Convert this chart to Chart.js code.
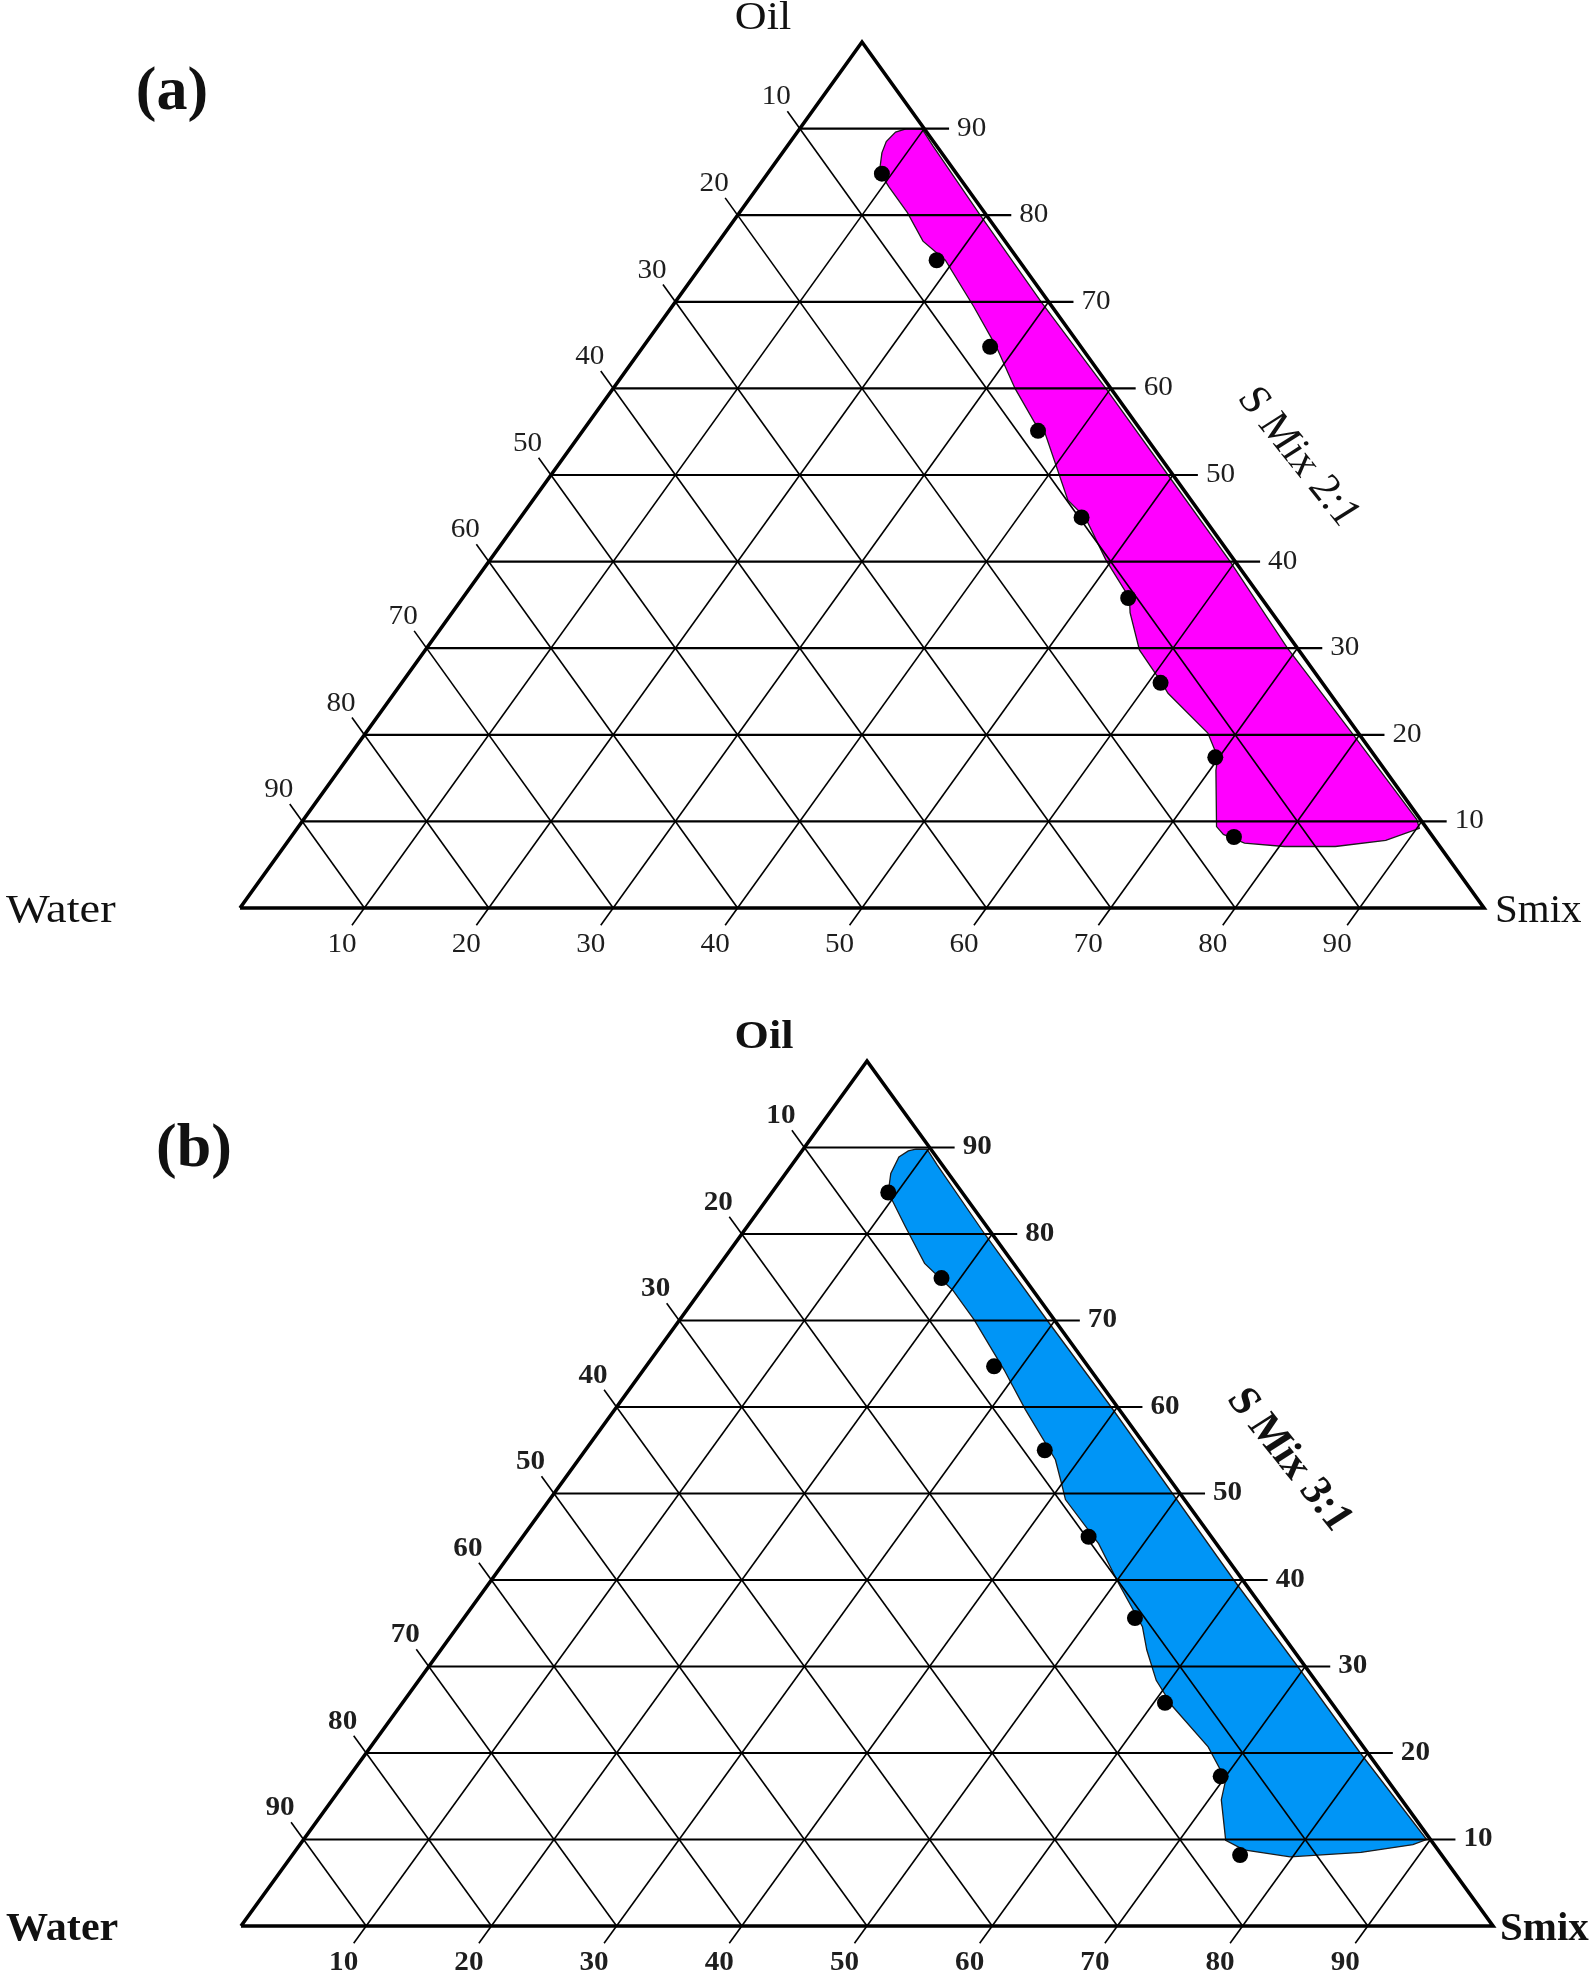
<!DOCTYPE html>
<html>
<head>
<meta charset="utf-8">
<script src="https://cdn.jsdelivr.net/npm/chart.js@4.4.0/dist/chart.umd.min.js"></script>
<style>
html,body{margin:0;padding:0;background:#ffffff;}
canvas{display:block;}
</style>
</head>
<body>
<canvas id="chartA" width="1593" height="988"></canvas>
<canvas id="chartB" width="1593" height="988"></canvas>
<script>
// ---------- DATA ----------
const tickValues = [10, 20, 30, 40, 50, 60, 70, 80, 90];
const tickLabels = ['10', '20', '30', '40', '50', '60', '70', '80', '90'];
const vertexLabels = ['Oil', 'Water', 'Smix'];
const panelLabels = ['(a)', '(b)'];
const ratioLabels = ['S Mix 2:1', 'S Mix 3:1'];

// titration points (oil %, smix %) ; water = 100 - oil - smix
const dotsA_oil  = [84.8, 74.8, 64.8, 55.1, 45.1, 35.8, 26.0, 17.4, 8.2];
const dotsA_smix = [ 9.2, 18.6, 27.9, 36.6, 45.1, 53.5, 61.0, 69.7, 75.8];
const dotsB_oil  = [84.8, 74.9, 64.7, 55.0, 45.0, 35.6, 25.8, 17.3, 8.2];
const dotsB_smix = [ 9.3, 18.5, 27.8, 36.7, 45.2, 53.6, 60.9, 69.6, 75.7];

// microemulsion region outline (oil %, smix %)
const regionA_oil  = [90.0, 89.6, 88.5, 87.2, 85.0, 83.3, 80.3, 77.0, 74.8, 69.4, 64.8, 60.0, 56.0, 55.1, 47.1, 45.1, 40.2, 35.8, 34.1, 29.8, 26.0, 24.8, 20.2, 17.4, 15.9, 9.4, 8.5, 7.5, 7.1, 7.1, 7.8, 9.2, 10.2, 20.0, 30.0, 40.0, 50.0, 60.0, 70.0, 80.0, 88.0, 89.9];
const regionA_smix = [ 8.6,  7.9,  7.7,  8.0,  8.9, 10.5, 13.5, 16.4, 19.3, 24.3, 28.4, 32.3, 35.9, 37.1, 43.0, 45.4, 49.5, 53.6, 54.5, 57.4, 61.1, 62.2, 67.7, 69.9, 70.5, 73.8, 74.8, 77.0, 80.4, 84.5, 88.2, 90.2, 89.5, 79.5, 69.2, 59.6, 49.6, 39.6, 29.4, 19.5, 11.7,  9.9];

const regionB_oil  = [89.8, 89.6, 88.9, 87.0, 84.8, 80.9, 76.6, 73.5, 70.1, 64.3, 59.7, 53.9, 50.8, 49.3, 44.2, 39.6, 34.6, 31.9, 28.4, 25.4, 20.7, 16.9, 14.6, 9.9, 8.8, 8.0, 8.5, 9.4, 10.0, 20.0, 30.0, 40.0, 50.0, 60.0, 70.0, 80.0, 88.0, 89.8];
const regionB_smix = [ 9.0,  8.5,  8.1,  8.4,  9.3, 12.6, 16.3, 20.1, 23.5, 28.8, 32.8, 38.1, 40.2, 41.2, 46.4, 50.3, 54.7, 56.4, 58.9, 61.7, 66.9, 70.2, 71.0, 73.7, 75.7, 79.8, 85.2, 88.9, 89.7, 79.4, 69.4, 59.3, 49.4, 39.5, 29.4, 19.4, 11.6,  9.9];

const TICK_LEN = 2;           // tick extension, in composition %
const FONT = '"Liberation Serif", "Times New Roman", serif';

// ternary (oil, smix) -> cartesian data space (x: 0..100, y: 0..100)
function tern(oil, smix) { return { x: smix + oil / 2, y: oil }; }

function buildDatasets(rOil, rSmix, dOil, dSmix, fillColor) {
  const ds = [];
  const region = rOil.map((o, i) => tern(o, rSmix[i]));
  region.push(region[0]);
  ds.push({
    data: region, showLine: true, fill: 'shape', backgroundColor: fillColor,
    borderColor: '#1c1c1c', borderWidth: 1.3, pointRadius: 0, tension: 0,
    clip: false, order: 10
  });
  tickValues.forEach(v => {
    ds.push({ data: [tern(v, 0), tern(v, 100 - v + TICK_LEN)], showLine: true, fill: false,
      borderColor: '#000', borderWidth: 2.2, pointRadius: 0, clip: false, order: 5 });
    ds.push({ data: [tern(100 - v + TICK_LEN, -TICK_LEN), tern(0, 100 - v)], showLine: true, fill: false,
      borderColor: '#000', borderWidth: 1.6, pointRadius: 0, clip: false, order: 5 });
    ds.push({ data: [tern(-TICK_LEN, v), tern(100 - v, v)], showLine: true, fill: false,
      borderColor: '#000', borderWidth: 1.6, pointRadius: 0, clip: false, order: 5 });
  });
  ds.push({ data: [tern(0, 0), tern(0, 100), tern(100, 0), tern(0, 0)], showLine: true, fill: false,
    borderColor: '#000', borderWidth: 3.6, pointRadius: 0, clip: false, order: 3,
    borderJoinStyle: 'miter' });
  ds.push({ data: dOil.map((o, i) => tern(o, dSmix[i])), showLine: false,
    pointRadius: 8, pointBackgroundColor: '#000', pointBorderWidth: 0,
    clip: false, order: 1 });
  return ds;
}

function drawText(ctx, str, x, y, o) {
  ctx.save();
  ctx.translate(x, y);
  ctx.scale(o.stretch || 1, 1);
  if (o.rotate) ctx.rotate(o.rotate);
  ctx.font = (o.bold ? 'bold ' : '') + o.size + 'px ' + FONT;
  ctx.textAlign = o.align || 'center';
  ctx.textBaseline = o.baseline || 'alphabetic';
  ctx.fillStyle = o.color || '#111';
  ctx.fillText(str, 0, 0);
  ctx.restore();
}

const ternaryText = {
  id: 'ternaryText',
  afterDraw(chart, args, opts) {
    const ctx = chart.ctx;
    const xs = chart.scales.x, ys = chart.scales.y;
    const P = (oil, smix) => {
      const t = tern(oil, smix);
      return { x: xs.getPixelForValue(t.x), y: ys.getPixelForValue(t.y) };
    };
    const b = opts.bold;
    const tk = { size: 27, bold: b, stretch: 1.08, color: '#1e1e1e', baseline: 'middle' };
    tickValues.forEach((v, i) => {
      const r = P(v, 100 - v + TICK_LEN);
      drawText(ctx, tickLabels[i], r.x + 8, r.y, Object.assign({}, tk, { align: 'left' }));
      const l = P(100 - v + TICK_LEN, -TICK_LEN);
      drawText(ctx, tickLabels[i], l.x - 11, l.y - 14, Object.assign({}, tk, { align: 'center' }));
      const d = P(-TICK_LEN, v);
      drawText(ctx, tickLabels[i], d.x - 10, d.y + 20, Object.assign({}, tk, { align: 'center' }));
    });
    const big = { size: 39, bold: b, color: '#111' };
    const apex = P(100, 0), wc = P(0, 0), sc = P(0, 100);
    drawText(ctx, vertexLabels[0], apex.x + opts.oilOffset[0], apex.y + opts.oilOffset[1], Object.assign({}, big, { align: 'center', stretch: 1.13 }));
    drawText(ctx, vertexLabels[1], opts.waterX, wc.y + 14, Object.assign({}, big, { align: 'left', stretch: opts.waterStretch }));
    drawText(ctx, vertexLabels[2], sc.x + opts.smixDX, sc.y + 14, Object.assign({}, big, { align: 'left', stretch: opts.smixStretch }));
    drawText(ctx, opts.ratio, opts.ratioPos[0], opts.ratioPos[1],
      { size: 40, bold: b, stretch: 1.12, rotate: 54.5 * Math.PI / 180, align: 'center', baseline: 'middle', color: '#111' });
    drawText(ctx, opts.panel, opts.panelPos[0], opts.panelPos[1],
      { size: 62, bold: true, stretch: 1, align: 'center', color: '#111' });
  }
};

function makeChart(id, datasets, padding, textOpts) {
  return new Chart(document.getElementById(id), {
    type: 'scatter',
    data: { datasets: datasets },
    options: {
      responsive: false, animation: false, events: [],
      layout: { padding: padding },
      scales: {
        x: { type: 'linear', min: 0, max: 100, display: false },
        y: { type: 'linear', min: 0, max: 100, display: false }
      },
      plugins: { legend: { display: false }, tooltip: { enabled: false }, ternaryText: textOpts }
    },
    plugins: [ternaryText]
  });
}

makeChart('chartA', buildDatasets(regionA_oil, regionA_smix, dotsA_oil, dotsA_smix, '#FF00FF'),
  { left: 240, right: 109, top: 42, bottom: 80 },
  { bold: false, panel: panelLabels[0], panelPos: [172, 109], ratio: ratioLabels[0], ratioPos: [1298, 457],
    oilOffset: [-99, -13], waterX: 6, waterStretch: 1.19, smixDX: 11, smixStretch: 1.05 });

makeChart('chartB', buildDatasets(regionB_oil, regionB_smix, dotsB_oil, dotsB_smix, '#0095F6'),
  { left: 241, right: 100, top: 73, bottom: 50 },
  { bold: true, panel: panelLabels[1], panelPos: [194, 178], ratio: ratioLabels[1], ratioPos: [1289, 472],
    oilOffset: [-103, -13], waterX: 6, waterStretch: 1.08, smixDX: 7, smixStretch: 1.05 });
</script>
</body>
</html>
